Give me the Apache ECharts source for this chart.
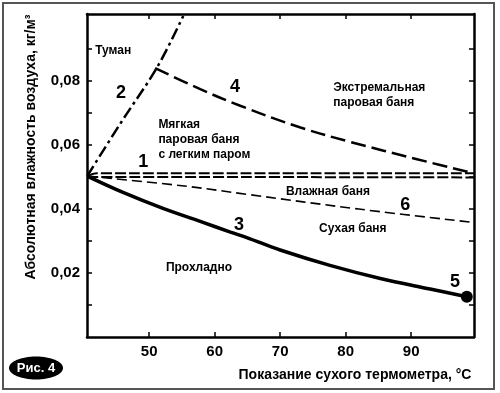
<!DOCTYPE html>
<html>
<head>
<meta charset="utf-8">
<script src="https://cdn.jsdelivr.net/npm/echarts@6/dist/echarts.min.js"></script>
<style>html,body{margin:0;padding:0;background:#fff}#c{width:500px;height:393px}</style>
</head>
<body>
<div id="c"></div>
<script>
// ---- data (temperature °C, absolute humidity kg/m3) ----
var xTickValues = [50, 60, 70, 80, 90];
var yTickValues = [0.01, 0.02, 0.03, 0.04, 0.05, 0.06, 0.07, 0.08, 0.09];
var yLabelValues = [0.02, 0.04, 0.06, 0.08];

var curve1Upper = [[40.53, 0.0503], [42, 0.0512], [70, 0.0512], [99.6, 0.0512]];
var curve1Lower = [[40.53, 0.0503], [42, 0.0500], [70, 0.0500], [99.6, 0.0499]];
var curve2 = [[40.53, 0.0503], [45.8, 0.0674], [51.2, 0.0843], [55.2, 0.1004]];
var curve3 = [[40.53, 0.0503], [46, 0.0452], [52, 0.0403], [58, 0.0360], [62.4, 0.0328], [65, 0.0310],
              [70, 0.0272], [77.6, 0.0224], [85.3, 0.0183], [92.9, 0.0150], [98.5, 0.0126]];
var curve4 = [[50.9, 0.0841], [57.8, 0.0775], [63.9, 0.0723], [73.1, 0.0655], [80.7, 0.0610],
              [90.9, 0.0556], [99.5, 0.0512]];
var curve6 = [[40.53, 0.0503], [55, 0.0473], [65, 0.0446], [82, 0.0400], [99.6, 0.0358]];
var point5 = [[98.5, 0.0126]];

var regionNames = ['Туман', 'Мягкая\nпаровая баня\nс легким паром', 'Экстремальная\nпаровая баня',
                   'Влажная баня', 'Сухая баня', 'Прохладно'];
var regionAt = [[44.5, 0.0894], [51.4, 0.0616], [78.1, 0.0757], [77.3, 0.0453], [81.1, 0.0338], [57.6, 0.0216]];
var regionAlign = ['center', 'left', 'left', 'center', 'center', 'center'];

var curveNumbers = ['1', '2', '3', '4', '5', '6'];
var numberAt = [[49.1, 0.0547], [45.7, 0.0763], [63.7, 0.0350], [63.1, 0.0782], [96.7, 0.0172], [89.1, 0.0413]];

var xTitle = 'Показание сухого термометра, °C';
var yTitle = 'Абсолютная влажность воздуха, кг/м³';
var figLabel = 'Рис. 4';

// ---- chart ----
var FONT = '"Liberation Sans", Arial, sans-serif';
var chart = echarts.init(document.getElementById('c'), null, {renderer: 'canvas'});

function line(data, width, dash) {
  return {type: 'line', data: data, showSymbol: false, smooth: 0.35, silent: true,
          lineStyle: {color: '#000', width: width, type: dash, cap: 'butt'}, z: 3};
}

var regionData = regionNames.map(function (n, i) {
  return {value: regionAt[i], label: {show: true, formatter: n, align: regionAlign[i], verticalAlign: 'middle',
          fontSize: 12, fontWeight: 'bold', fontFamily: FONT, color: '#000', lineHeight: 15, position: 'inside',
          textBorderWidth: 0, textBorderColor: 'transparent'}};
});
var numberData = curveNumbers.map(function (n, i) {
  return {value: numberAt[i], label: {show: true, formatter: n, align: 'center', verticalAlign: 'middle',
          fontSize: 18, fontWeight: 'bold', fontFamily: FONT, color: '#000', position: 'inside',
          textBorderWidth: 0, textBorderColor: 'transparent'}};
});

var axisCommon = {
  type: 'value', min: 40.5, max: 99.6,
  axisLine: {show: true, onZero: false, lineStyle: {color: '#000', width: 2.5}},
  axisTick: {show: true, inside: true, length: 5, lineStyle: {color: '#000', width: 1.5}, customValues: xTickValues},
  splitLine: {show: false}
};

chart.setOption({
  animation: false,
  backgroundColor: '#fff',
  grid: {left: 87, right: 26, top: 14, bottom: 56, containLabel: false},
  xAxis: [
    Object.assign({}, axisCommon, {position: 'bottom',
      axisLabel: {show: true, customValues: xTickValues, fontSize: 15, fontWeight: 'bold', fontFamily: FONT, color: '#000', margin: 7}}),
    Object.assign({}, axisCommon, {position: 'top', axisLabel: {show: false}})
  ],
  yAxis: [
    {type: 'value', min: 0, max: 0.101, position: 'left',
     axisLine: {show: true, onZero: false, lineStyle: {color: '#000', width: 2.5}},
     axisTick: {show: true, inside: true, length: 5, lineStyle: {color: '#000', width: 1.5}, customValues: yTickValues},
     axisLabel: {show: true, customValues: yLabelValues, fontSize: 15, fontWeight: 'bold', fontFamily: FONT, color: '#000', margin: 7,
                 formatter: function (v) { return v.toFixed(2).replace('.', ','); }},
     splitLine: {show: false}},
    {type: 'value', min: 0, max: 0.101, position: 'right',
     axisLine: {show: true, onZero: false, lineStyle: {color: '#000', width: 2.5}},
     axisTick: {show: true, inside: true, length: 5, lineStyle: {color: '#000', width: 1.5}, customValues: yTickValues},
     axisLabel: {show: false}, splitLine: {show: false}}
  ],
  series: [
    line(curve1Upper, 2, [11, 3]),
    line(curve1Lower, 2, [11, 3]),
    line(curve2, 2.5, [12, 4, 3, 4]),
    line(curve3, 3.5, 'solid'),
    line(curve4, 2.5, [15, 6]),
    line(curve6, 1.6, [10, 5]),
    {type: 'scatter', data: point5, symbol: 'circle', symbolSize: 12, itemStyle: {color: '#000', opacity: 1}, silent: true, z: 4},
    {type: 'scatter', data: regionData, symbolSize: 0, itemStyle: {color: '#000', opacity: 1}, silent: true, z: 5},
    {type: 'scatter', data: numberData, symbolSize: 0, itemStyle: {color: '#000', opacity: 1}, silent: true, z: 5}
  ],
  graphic: [
    {type: 'rect', shape: {x: 3, y: 3, width: 491, height: 386}, style: {fill: 'none', stroke: '#555', lineWidth: 2}, z: 0},
    {type: 'text', x: 31, y: 147, rotation: Math.PI / 2, style: {text: yTitle, fontSize: 14, fontWeight: 'bold', fontFamily: FONT,
      fill: '#000', align: 'center', verticalAlign: 'middle'}},
    {type: 'text', x: 355, y: 375, style: {text: xTitle, fontSize: 14, fontWeight: 'bold', fontFamily: FONT,
      fill: '#000', align: 'center', verticalAlign: 'middle'}},
    {type: 'ellipse', shape: {cx: 36, cy: 368, rx: 27, ry: 11.5}, style: {fill: '#000'}},
    {type: 'text', x: 36, y: 368, style: {text: figLabel, fontSize: 13, fontWeight: 'bold', fontFamily: FONT,
      fill: '#fff', align: 'center', verticalAlign: 'middle'}}
  ]
});
</script>
</body>
</html>
